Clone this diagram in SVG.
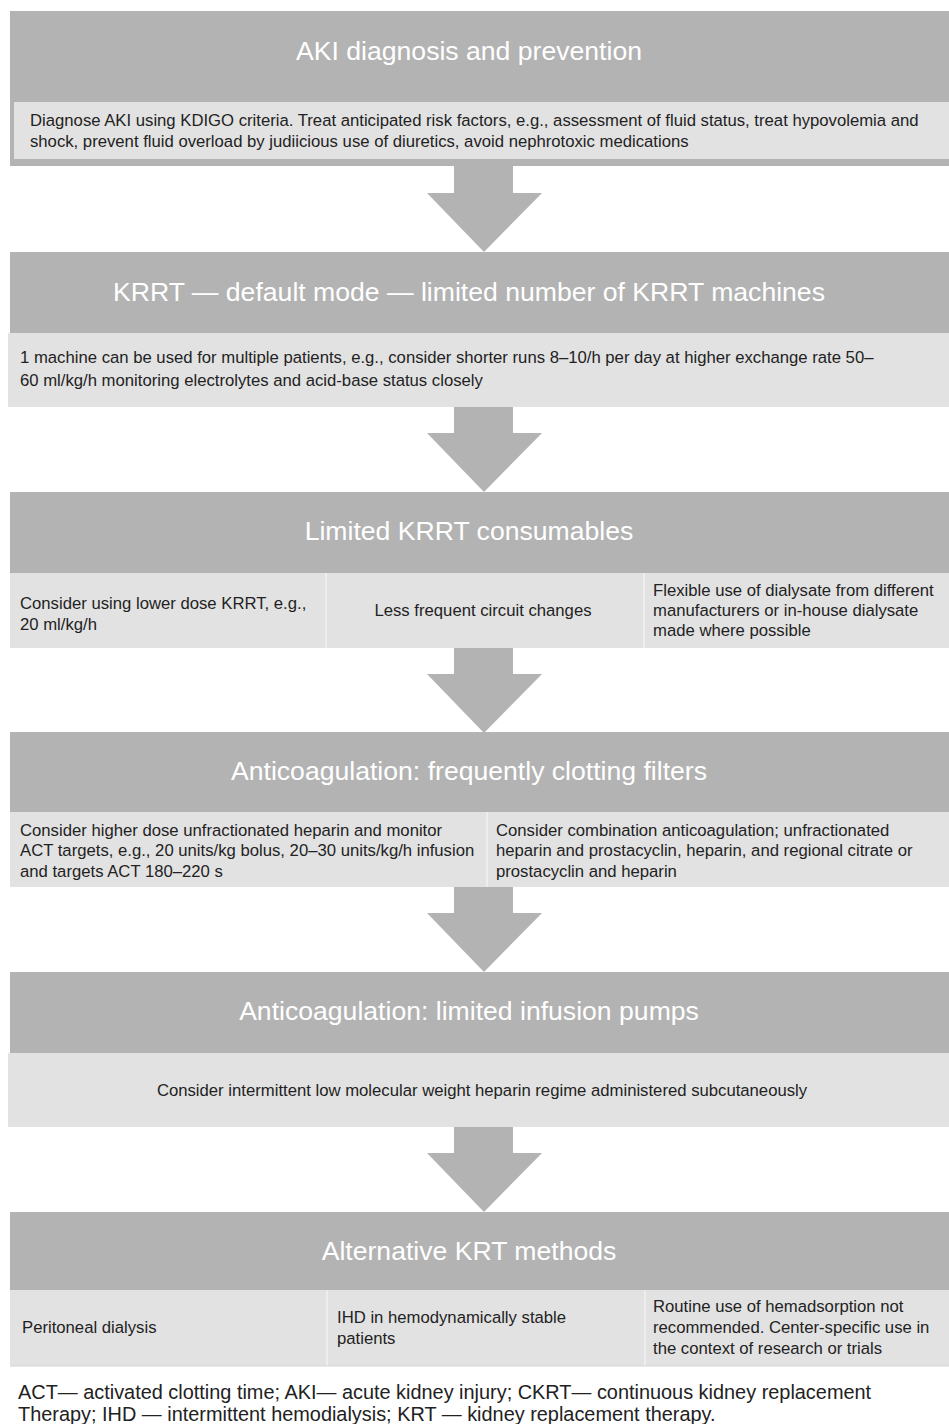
<svg xmlns="http://www.w3.org/2000/svg" width="949" height="1424" viewBox="0 0 949 1424">
<style>
.hdr{fill:#b3b3b3}
.body{fill:#e2e2e2}
.div{stroke:#ededed;stroke-width:2}
.title{font-family:"Liberation Sans",Arial,sans-serif;font-size:26.6px;fill:#ffffff;text-anchor:middle}
.t{font-family:"Liberation Sans",Arial,sans-serif;font-size:16.7px;fill:#222222}
.c{text-anchor:middle}
.foot{font-family:"Liberation Sans",Arial,sans-serif;font-size:19.9px;fill:#222222}
.arrow{fill:#b3b3b3}
</style>
<rect width="949" height="1424" fill="#ffffff"/>
<g id="connectors">
<polygon class="arrow" points="454,166 513,166 513,193 542,193 484,252 427,193 454,193"/>
<polygon class="arrow" points="454,407 513,407 513,433 542,433 484,492 427,433 454,433"/>
<polygon class="arrow" points="454,648 513,648 513,674 542,674 484,733 427,674 454,674"/>
<polygon class="arrow" points="454,887 513,887 513,913 542,913 484,972 427,913 454,913"/>
<polygon class="arrow" points="454,1127 513,1127 513,1153 542,1153 484,1212 427,1153 454,1153"/>
</g>
<g id="node-aki">
<rect class="hdr" x="10" y="11" width="939" height="155"/>
<rect class="body" x="14" y="102" width="935" height="57"/>
<text class="title" x="469" y="60">AKI diagnosis and prevention</text>
<text class="t" x="30" y="126">Diagnose AKI using KDIGO criteria. Treat anticipated risk factors, e.g., assessment of fluid status, treat hypovolemia and</text>
<text class="t" x="30" y="147">shock, prevent fluid overload by judiicious use of diuretics, avoid nephrotoxic medications</text>
</g>
<g id="node-krrt-default">
<rect class="hdr" x="10" y="252" width="939" height="81"/>
<rect class="body" x="8" y="333" width="941" height="74"/>
<text class="title" x="469" y="301">KRRT — default mode — limited number of KRRT machines</text>
<text class="t" x="20" y="363">1 machine can be used for multiple patients, e.g., consider shorter runs 8–10/h per day at higher exchange rate 50–</text>
<text class="t" x="20" y="386">60 ml/kg/h monitoring electrolytes and acid-base status closely</text>
</g>
<g id="node-consumables">
<rect class="hdr" x="10" y="492" width="939" height="81"/>
<rect class="body" x="10" y="573" width="939" height="75"/>
<line class="div" x1="326" y1="573" x2="326" y2="648"/>
<line class="div" x1="644" y1="573" x2="644" y2="648"/>
<text class="title" x="469" y="540">Limited KRRT consumables</text>
<text class="t" x="20" y="609">Consider using lower dose KRRT, e.g.,</text>
<text class="t" x="20" y="630">20 ml/kg/h</text>
<text class="t c" x="483" y="616">Less frequent circuit changes</text>
<text class="t" x="653" y="596">Flexible use of dialysate from different</text>
<text class="t" x="653" y="616">manufacturers or in-house dialysate</text>
<text class="t" x="653" y="636">made where possible</text>
</g>
<g id="node-clotting">
<rect class="hdr" x="10" y="732" width="939" height="80"/>
<rect class="body" x="10" y="812" width="939" height="75"/>
<line class="div" x1="487" y1="812" x2="487" y2="887"/>
<text class="title" x="469" y="780">Anticoagulation: frequently clotting filters</text>
<text class="t" x="20" y="836">Consider higher dose unfractionated heparin and monitor</text>
<text class="t" x="20" y="856">ACT targets, e.g., 20 units/kg bolus, 20–30 units/kg/h infusion</text>
<text class="t" x="20" y="877">and targets ACT 180–220 s</text>
<text class="t" x="496" y="836">Consider combination anticoagulation; unfractionated</text>
<text class="t" x="496" y="856">heparin and prostacyclin, heparin, and regional citrate or</text>
<text class="t" x="496" y="877">prostacyclin and heparin</text>
</g>
<g id="node-pumps">
<rect class="hdr" x="10" y="972" width="939" height="81"/>
<rect class="body" x="8" y="1053" width="941" height="74"/>
<text class="title" x="469" y="1020">Anticoagulation: limited infusion pumps</text>
<text class="t c" x="482" y="1096">Consider intermittent low molecular weight heparin regime administered subcutaneously</text>
</g>
<g id="node-alternative">
<rect class="hdr" x="10" y="1212" width="939" height="78"/>
<rect class="body" x="10" y="1290" width="939" height="76"/>
<line class="div" x1="327" y1="1290" x2="327" y2="1366"/>
<line class="div" x1="645" y1="1290" x2="645" y2="1366"/>
<line x1="10" y1="1366" x2="949" y2="1366" stroke="#d4d4d4" stroke-width="1"/>
<text class="title" x="469" y="1260">Alternative KRT methods</text>
<text class="t" x="22" y="1333">Peritoneal dialysis</text>
<text class="t" x="337" y="1323">IHD in hemodynamically stable</text>
<text class="t" x="337" y="1344">patients</text>
<text class="t" x="653" y="1312">Routine use of hemadsorption not</text>
<text class="t" x="653" y="1333">recommended. Center-specific use in</text>
<text class="t" x="653" y="1354">the context of research or trials</text>
</g>
<g id="footnote">
<text class="foot" x="18" y="1399">ACT— activated clotting time; AKI— acute kidney injury; CKRT— continuous kidney replacement</text>
<text class="foot" x="18" y="1421">Therapy; IHD — intermittent hemodialysis; KRT — kidney replacement therapy.</text>
</g>
</svg>
